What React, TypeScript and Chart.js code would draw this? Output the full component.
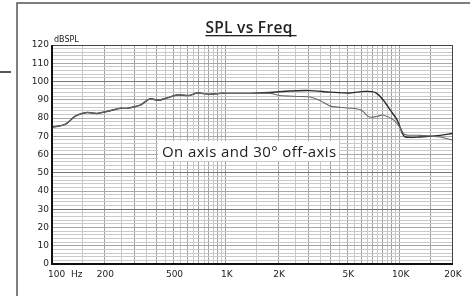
import React, { useEffect, useRef } from 'react';
import { Chart, registerables } from 'chart.js';

Chart.register(...registerables);

const title = 'SPL vs Freq';
const yUnit = 'dBSPL';
const annotationText = 'On axis and 30° off-axis';

const xLabelValues = [100, 200, 500, 1000, 2000, 5000, 10000, 20000];
const xLabelTexts = ['100 Hz', '200', '500', '1K', '2K', '5K', '10K', '20K'];
const yLabelValues = [0, 10, 20, 30, 40, 50, 60, 70, 80, 90, 100, 110, 120];

const onAxisFreq = [100, 119, 136, 159, 181, 216, 246, 270, 321, 366, 407, 459, 524, 622, 683, 811, 926, 1057, 1378, 1796, 2340, 3050, 3980, 5180, 6320, 7220, 8030, 8810, 9660, 10320, 10740, 13100, 17080, 20000];
const onAxisSpl = [75, 76.5, 81, 83, 82.5, 84, 85.3, 85.3, 87, 90.5, 89.7, 91, 92.6, 92.4, 93.7, 93, 93.5, 93.5, 93.5, 94, 94.8, 95, 94.2, 93.7, 94.6, 94, 90, 84.4, 79, 72, 69.6, 69.6, 70.5, 71.5];

const offAxisFreq = [100, 119, 136, 159, 181, 216, 246, 270, 321, 366, 407, 459, 524, 622, 683, 811, 926, 1057, 1378, 1796, 2050, 2670, 3050, 3500, 4000, 5000, 6000, 6700, 7500, 8000, 9200, 10000, 10700, 13100, 17080, 20000];
const offAxisSpl = [75, 76.5, 81, 83, 82.5, 84, 85.3, 85.3, 87, 90.5, 89.7, 91, 92.6, 92.4, 93.7, 93, 93.5, 93.5, 93.5, 93.5, 92.3, 91.8, 91.5, 89.5, 86.5, 85.5, 84.4, 80.5, 81, 81.6, 79, 75, 71, 70.5, 69.6, 68];

function buildXGrid(): number[] {
  const v: number[] = [100];
  for (let f = 150; f <= 1000; f += 50) v.push(f);
  for (let f = 1500; f <= 10000; f += 500) v.push(f);
  v.push(15000, 20000);
  return v;
}

export default function App() {
  const ref = useRef<HTMLCanvasElement | null>(null);

  useEffect(() => {
    const canvas = ref.current;
    if (!canvas) return;
    const gridX = buildXGrid();

    const deco = {
      id: 'deco',
      beforeDraw(chart: any) {
        const ctx = chart.ctx;
        ctx.save();
        ctx.fillStyle = '#fff';
        ctx.fillRect(0, 0, chart.width, chart.height);
        ctx.restore();
      },
      afterDatasetsDraw(chart: any) {
        const ctx = chart.ctx;
        const xs = chart.scales.x;
        const ys = chart.scales.y;
        const a = chart.chartArea;
        ctx.save();
        // plot border top/right
        ctx.strokeStyle = '#444';
        ctx.lineWidth = 1;
        ctx.beginPath();
        ctx.moveTo(a.left, a.top + 0.5);
        ctx.lineTo(a.right + 0.5, a.top + 0.5);
        ctx.lineTo(a.right + 0.5, a.bottom);
        ctx.stroke();
        // left/bottom axes
        ctx.strokeStyle = '#111';
        ctx.lineWidth = 2;
        ctx.beginPath();
        ctx.moveTo(a.left, a.top);
        ctx.lineTo(a.left, a.bottom);
        ctx.lineTo(a.right + 1, a.bottom);
        ctx.stroke();

        // outer frame
        ctx.strokeStyle = '#555';
        ctx.lineWidth = 1.5;
        ctx.beginPath();
        ctx.moveTo(17, 296);
        ctx.lineTo(17, 3);
        ctx.lineTo(470, 3);
        ctx.stroke();
        ctx.lineWidth = 2;
        ctx.beginPath();
        ctx.moveTo(0, 72);
        ctx.lineTo(11, 72);
        ctx.stroke();

        // title
        ctx.fillStyle = '#222';
        ctx.font = '600 15.5px "Open Sans"';
        (ctx as any).letterSpacing = '0.3px';
        ctx.textAlign = 'left';
        ctx.textBaseline = 'alphabetic';
        const tw = ctx.measureText(title).width;
        const tx = 249 - tw / 2;
        ctx.fillText(title, tx, 33);
        ctx.fillRect(tx, 35, tw + 4, 1.3);

        (ctx as any).letterSpacing = '0px';
        // unit
        ctx.font = '8px "DejaVu Sans"';
        ctx.textAlign = 'left';
        ctx.textBaseline = 'middle';
        ctx.fillStyle = '#222';
        ctx.fillText(yUnit, 54, 40);

        // y labels
        ctx.font = '9px "DejaVu Sans"';
        ctx.textAlign = 'right';
        yLabelValues.forEach((v) => {
          ctx.fillText(String(v), 49, ys.getPixelForValue(v));
        });
        // x labels
        ctx.textBaseline = 'middle';
        xLabelValues.forEach((v, i) => {
          const px = xs.getPixelForValue(v);
          if (i === 0) {
            ctx.textAlign = 'left';
            ctx.fillText(xLabelTexts[i].replace(' ', '  '), px - 4, 275);
          } else {
            ctx.textAlign = 'center';
            ctx.fillText(xLabelTexts[i], px + 1, 275);
          }
        });

        // annotation box
        ctx.fillStyle = '#fff';
        ctx.fillRect(158, 141, 181, 20);
        ctx.fillStyle = '#222';
        ctx.font = '500 15px "Open Sans"';
        (ctx as any).letterSpacing = '0.4px';
        ctx.textAlign = 'left';
        ctx.textBaseline = 'alphabetic';
        ctx.fillText(annotationText, 162, 157);
        (ctx as any).letterSpacing = '0px';
        ctx.restore();
      },
    };

    const chart = new Chart(canvas, {
      type: 'line',
      data: {
        datasets: [
          {
            label: '30° off-axis',
            data: offAxisFreq.map((f, i) => ({ x: f, y: offAxisSpl[i] })),
            borderColor: '#6a6a6a',
            borderWidth: 1.1,
            pointRadius: 0,
            tension: 0.3,
            fill: false,
          },
          {
            label: 'On axis',
            data: onAxisFreq.map((f, i) => ({ x: f, y: onAxisSpl[i] })),
            borderColor: '#2a2a2a',
            borderWidth: 1.4,
            pointRadius: 0,
            tension: 0.3,
            fill: false,
          },
        ],
      },
      options: {
        responsive: false,
        animation: false,
        devicePixelRatio: 1,
        layout: { padding: { left: 52, top: 45, right: 18, bottom: 32 } },
        plugins: { legend: { display: false }, tooltip: { enabled: false }, title: { display: false } },
        scales: {
          x: {
            type: 'logarithmic',
            min: 100,
            max: 20000,
            afterBuildTicks: (s: any) => {
              s.ticks = gridX.map((v) => ({ value: v }));
            },
            ticks: { display: false },
            border: { display: false },
            grid: {
              drawTicks: false,
              lineWidth: 1,
              color: (c: any) => {
                const v = c.tick ? c.tick.value : 0;
                const major = (v < 1000 && v % 100 === 0) || (v >= 1000 && v % 1000 === 0);
                return major ? '#a0a0a0' : '#c8c8c8';
              },
            },
          },
          y: {
            type: 'linear',
            min: 0,
            max: 120,
            ticks: { display: false, stepSize: 2 },
            border: { display: false },
            grid: {
              drawTicks: false,
              lineWidth: 1,
              color: (c: any) => {
                const v = c.tick ? c.tick.value : 0;
                if (v === 30 || v === 50 || v === 100) return '#777';
                return v % 10 === 0 ? '#a8a8a8' : '#cacaca';
              },
            },
          },
        },
      },
      plugins: [deco],
    } as any);

    return () => chart.destroy();
  }, []);

  return (
    <div style={{ position: 'fixed', left: 0, top: 0, width: 470, height: 296, background: '#fff' }}>
      <canvas ref={ref} width={470} height={296} style={{ display: 'block', width: 470, height: 296 }} />
    </div>
  );
}
